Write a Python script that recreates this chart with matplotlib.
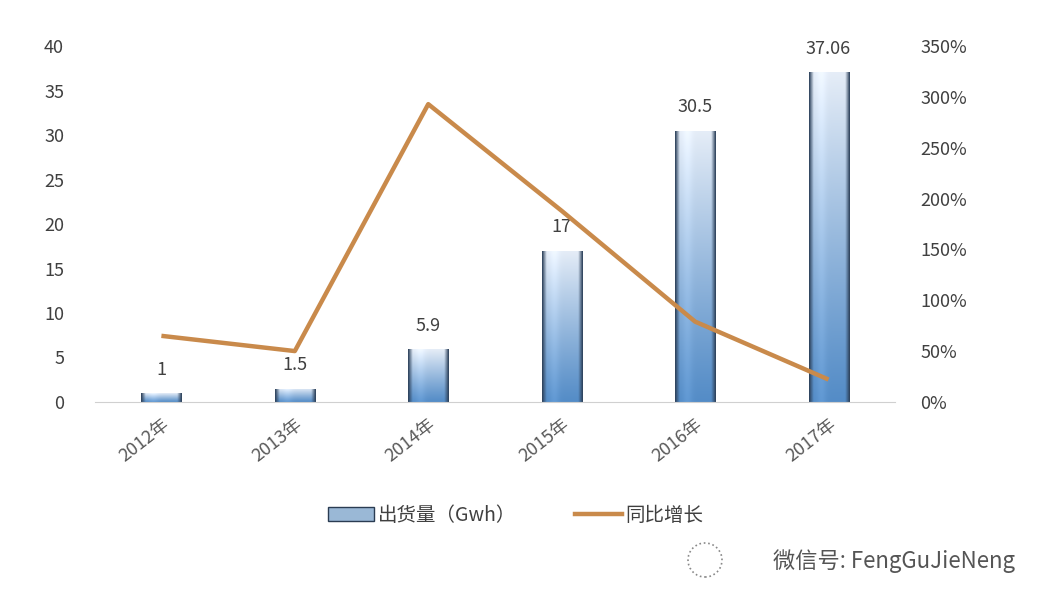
import numpy as np
import matplotlib
matplotlib.use('Agg')
import matplotlib.pyplot as plt
from matplotlib.patches import Rectangle, Ellipse
from matplotlib.lines import Line2D
from matplotlib.ticker import FuncFormatter

plt.rcParams['font.family'] = ['Noto Sans CJK SC', 'DejaVu Sans']

years = ['2012年', '2013年', '2014年', '2015年', '2016年', '2017年']
shipments = [1, 1.5, 5.9, 17, 30.5, 37.06]
shipment_labels = ['1', '1.5', '5.9', '17', '30.5', '37.06']
growth = [65, 50, 293, 188, 79, 22]

txt_color = '#404040'

fig = plt.figure(figsize=(10.52, 6.08), dpi=100)
ax1 = fig.add_axes([0.090, 0.339, 0.761, 0.585])
ax2 = ax1.twinx()

x = np.arange(len(years))
width = 0.3

# gradient image for bars: light top -> blue bottom, dark edges
ny, nx = 200, 60
vert = np.linspace(0, 1, ny)[:, None]          # 0 bottom, 1 top
horiz = np.linspace(-1, 1, nx)[None, :]
top_c = np.array([0.90, 0.93, 0.97])
bot_c = np.array([0.33, 0.55, 0.78])
base = bot_c + (top_c - bot_c) * vert[..., None] ** 1.1
base = np.broadcast_to(base, (ny, nx, 3)).copy()
edge = np.clip((np.abs(horiz) - 0.78) / 0.22, 0, 1)[..., None]
shine = np.exp(-((horiz + 0.4) ** 2) / 0.06)[..., None] * 0.05
dark = np.array([0.18, 0.26, 0.36])
img = base * (1 - edge) + dark * edge
img = np.clip(img + shine * (1 - edge), 0, 1)

ax1.set_xlim(-0.5, len(years) - 0.5)
ax1.set_ylim(0, 40)
for xi, val, lab in zip(x, shipments, shipment_labels):
    rect = Rectangle((xi - width / 2, 0), width, val, facecolor='none',
                     edgecolor='none')
    ax1.add_patch(rect)
    im = ax1.imshow(img, extent=(xi - width / 2, xi + width / 2, 0, val),
                    origin='lower', aspect='auto', zorder=2)
    im.set_clip_path(rect)
    ax1.text(xi, val + 1.6, lab, ha='center', va='bottom', fontsize=13,
             color=txt_color)
ax1.set_aspect('auto')

ax2.plot(x, growth, color='#C98A4B', lw=3.2, solid_capstyle='butt', zorder=3)
ax2.set_ylim(0, 350)
ax2.set_yticks(np.arange(0, 351, 50))
ax2.yaxis.set_major_formatter(FuncFormatter(lambda v, p: '%d%%' % v))

ax1.set_yticks(np.arange(0, 41, 5))
ax1.set_xticks(x)
ax1.set_xticklabels(years, rotation=38, ha='right', rotation_mode='anchor')

for ax in (ax1, ax2):
    for s in ('top', 'left', 'right'):
        ax.spines[s].set_visible(False)
    ax.spines['bottom'].set_color('#d0d0d0')
    ax.tick_params(length=0, labelsize=13, colors=txt_color)
ax2.spines['bottom'].set_visible(False)
ax1.tick_params(axis='y', pad=22)
ax2.tick_params(axis='y', pad=18)
ax1.tick_params(axis='x', pad=10, colors='#595959')
ax1.set_zorder(ax2.get_zorder() - 1)
ax2.patch.set_visible(False)

# legend
bar_handle = Rectangle((0, 0), 1, 1, facecolor='#9ab8d6', edgecolor='#2a3c52')
line_handle = Line2D([0], [0], color='#C98A4B', lw=3.2)
fig.legend([bar_handle, line_handle], ['出货量（Gwh）', '同比增长'],
           loc='center', bbox_to_anchor=(0.49, 0.152), ncol=2, frameon=False,
           fontsize=14, labelcolor=txt_color, columnspacing=3.0,
           handlelength=2.4, handletextpad=0.2)

fig.text(0.965, 0.077, '微信号: FengGuJieNeng', ha='right', va='center',
         fontsize=16, color='#555555')
r = 17
fig.patches.append(Ellipse((705 / 1052, 1 - 560 / 608), 2 * r / 1052,
                           2 * r / 608, transform=fig.transFigure,
                           fill=False, ls=':', color='#888888', lw=1.2))

fig.savefig('out.png', dpi=100)
